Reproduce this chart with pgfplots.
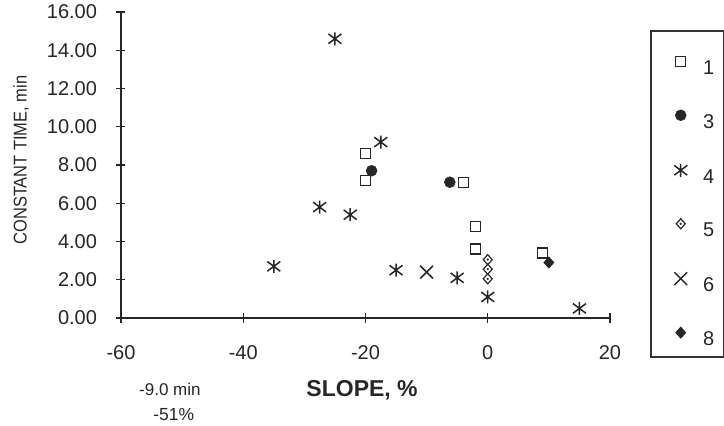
\documentclass[border=0pt]{standalone}
\usepackage{graphicx}
\usepackage{fontspec}
\setmainfont{Liberation Sans}
\usepackage{pgfplots}
\pgfplotsset{compat=1.18}

\pgfdeclareplotmark{xstar}{%
  \pgfpathmoveto{\pgfqpoint{0pt}{\pgfplotmarksize}}%
  \pgfpathlineto{\pgfqpoint{0pt}{-\pgfplotmarksize}}%
  \pgfpathmoveto{\pgfqpoint{-\pgfplotmarksize}{0.75\pgfplotmarksize}}%
  \pgfpathlineto{\pgfqpoint{\pgfplotmarksize}{-0.75\pgfplotmarksize}}%
  \pgfpathmoveto{\pgfqpoint{-\pgfplotmarksize}{-0.75\pgfplotmarksize}}%
  \pgfpathlineto{\pgfqpoint{\pgfplotmarksize}{0.75\pgfplotmarksize}}%
  \pgfusepathqstroke}
\pgfdeclareplotmark{ddiamond}{%
  \pgfpathmoveto{\pgfqpoint{0pt}{\pgfplotmarksize}}%
  \pgfpathlineto{\pgfqpoint{0.9\pgfplotmarksize}{0pt}}%
  \pgfpathlineto{\pgfqpoint{0pt}{-\pgfplotmarksize}}%
  \pgfpathlineto{\pgfqpoint{-0.9\pgfplotmarksize}{0pt}}%
  \pgfpathclose\pgfusepathqstroke
  \pgfpathcircle{\pgfpointorigin}{0.25\pgfplotmarksize}\pgfusepathqfill}
\pgfdeclareplotmark{fdiamond}{%
  \pgfpathmoveto{\pgfqpoint{0pt}{\pgfplotmarksize}}%
  \pgfpathlineto{\pgfqpoint{0.9\pgfplotmarksize}{0pt}}%
  \pgfpathlineto{\pgfqpoint{0pt}{-\pgfplotmarksize}}%
  \pgfpathlineto{\pgfqpoint{-0.9\pgfplotmarksize}{0pt}}%
  \pgfpathclose\pgfusepathqfillstroke}

\begin{document}
\begin{tikzpicture}[x=1pt,y=1pt]
\path[use as bounding box] (0,0) rectangle (724,426);
\begin{axis}[
  at={(121pt,108pt)}, anchor=south west,
  scale only axis, width=489pt, height=306pt,
  xmin=-60, xmax=20, ymin=0, ymax=16,
  axis lines=left,
  axis line style={-, line width=1.5pt, black!85},
  xtick={-60,-40,-20,0,20},
  ytick={0,2,4,6,8,10,12,14,16},
  tick align=center,
  major tick length=9pt,
  tick style={line width=1.4pt, black!85},
  /pgf/number format/assume math mode=true,
  ticklabel style={font=\fontsize{20}{22}\selectfont, text=black!85},
  yticklabel={\pgfmathprintnumber[fixed,fixed zerofill,precision=2]{\tick}},
  yticklabel style={anchor=east, xshift=-16pt},
  xticklabel style={anchor=north, yshift=-20pt},
  ylabel={\scalebox{0.89}[1]{CONSTANT TIME, min}},
  ylabel style={at={(axis description cs:-0.2045,0.516)}, anchor=center, font=\fontsize{18.5}{20}\selectfont, text=black!85},
  xlabel={SLOPE, \%},
  xlabel style={at={(axis description cs:0.493,-0.235)}, anchor=center, font=\fontsize{23}{25}\selectfont\bfseries, text=black!85},
  clip=false,
  legend style={draw=none, fill=none, inner sep=0pt,
    at={(axis description cs:1.131,0.856)}, anchor=north west,
    row sep=34pt, column sep=16pt, font=\fontsize{20}{22}\selectfont, text=black!85,
    nodes={inner sep=0pt, anchor=base west}},
  legend image code/.code={\draw[#1] plot coordinates {(0pt,13pt)};},
  legend cell align=left,
]
\addplot[only marks, mark=square, mark size=5pt, line width=1.3pt, black!85] coordinates {
  (-20,8.6) (-20,7.2) (-4,7.1) (-2,4.8) (-2,3.6) (9,3.4)};
\addlegendentry{1}
\addplot[only marks, mark=*, mark size=5.5pt, black!85, fill=black!85] coordinates {
  (-19,7.7) (-6.2,7.1)};
\addlegendentry{3}
\addplot[only marks, mark=xstar, mark size=6.5pt, line width=1.5pt, black!85] coordinates {
  (-25,14.6) (-17.5,9.2) (-27.5,5.8) (-22.5,5.4) (-35,2.7) (-15,2.5) (-5,2.1) (0,1.1) (15,0.5)};
\addlegendentry{4}
\addplot[only marks, mark=ddiamond, mark size=5pt, line width=1.2pt, black!85] coordinates {
  (0,3.05) (0,2.55) (0,2.05)};
\addlegendentry{5}
\addplot[only marks, mark=x, mark size=9pt, line width=1.5pt, black!85] coordinates {
  (-10,2.4)};
\addlegendentry{6}
\addplot[only marks, mark=fdiamond, mark size=5.5pt, line width=0.8pt, black!85, fill=black!85] coordinates {
  (10,2.9)};
\addlegendentry{8}
\node[font=\fontsize{17}{19}\selectfont, text=black!85] at (axis description cs:0.1,-0.232) {-9.0 min};
\node[font=\fontsize{17.5}{19}\selectfont, text=black!85] at (axis description cs:0.108,-0.317) {-51\%};
\end{axis}
\draw[line width=1.2pt, black!80] (651,395) rectangle (724,69);
\end{tikzpicture}
\end{document}
